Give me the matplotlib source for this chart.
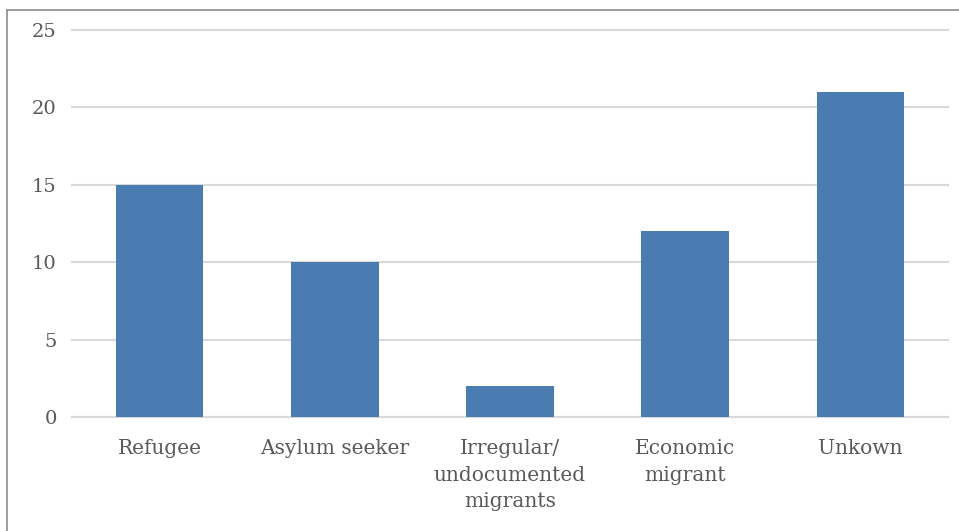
import matplotlib.pyplot as plt
from matplotlib.lines import Line2D

# data
categories = ['Refugee', 'Asylum seeker', 'Irregular/\nundocumented\nmigrants',
              'Economic\nmigrant', 'Unkown']
values = [15, 10, 2, 12, 21]
yticks = [0, 5, 10, 15, 20, 25]

W, H = 959, 531
fig = plt.figure(figsize=(W / 100, H / 100), dpi=100)
ax = fig.add_axes([72 / W, 1 - 417 / H, (948 - 72) / W, (417 - 30) / H])

x = range(len(categories))
ax.bar(x, values, width=0.5, color='#4A7BB1', zorder=3)

ax.set_xlim(-0.5, len(categories) - 0.5)
ax.set_ylim(0, 25)
ax.set_yticks(yticks)
ax.set_xticks(list(x))
ax.set_xticklabels(categories, fontsize=14.5, color='#595959', family='DejaVu Serif',
                   linespacing=1.5)
ax.set_yticklabels([str(v) for v in yticks], fontsize=14, color='#595959',
                   family='DejaVu Serif')

ax.grid(axis='y', color='#D9D9D9', linewidth=1.5, zorder=0)
for gl in ax.get_ygridlines():
    gl.set_clip_on(False)
ax.tick_params(axis='both', length=0)
ax.tick_params(axis='x', pad=16)
ax.tick_params(axis='y', pad=11)
for s in ['top', 'right', 'left']:
    ax.spines[s].set_visible(False)
ax.spines['bottom'].set_color('#D9D9D9')
ax.spines['bottom'].set_linewidth(1.5)

# outer chart border (top and left only visible)
fig.add_artist(Line2D([7 / W, 1], [1 - 10 / H, 1 - 10 / H], transform=fig.transFigure,
                      color='#8C8C8C', linewidth=1.2))
fig.add_artist(Line2D([7 / W, 7 / W], [0, 1 - 10 / H], transform=fig.transFigure,
                      color='#8C8C8C', linewidth=1.2))

fig.savefig('out.png', dpi=100, facecolor='white')
